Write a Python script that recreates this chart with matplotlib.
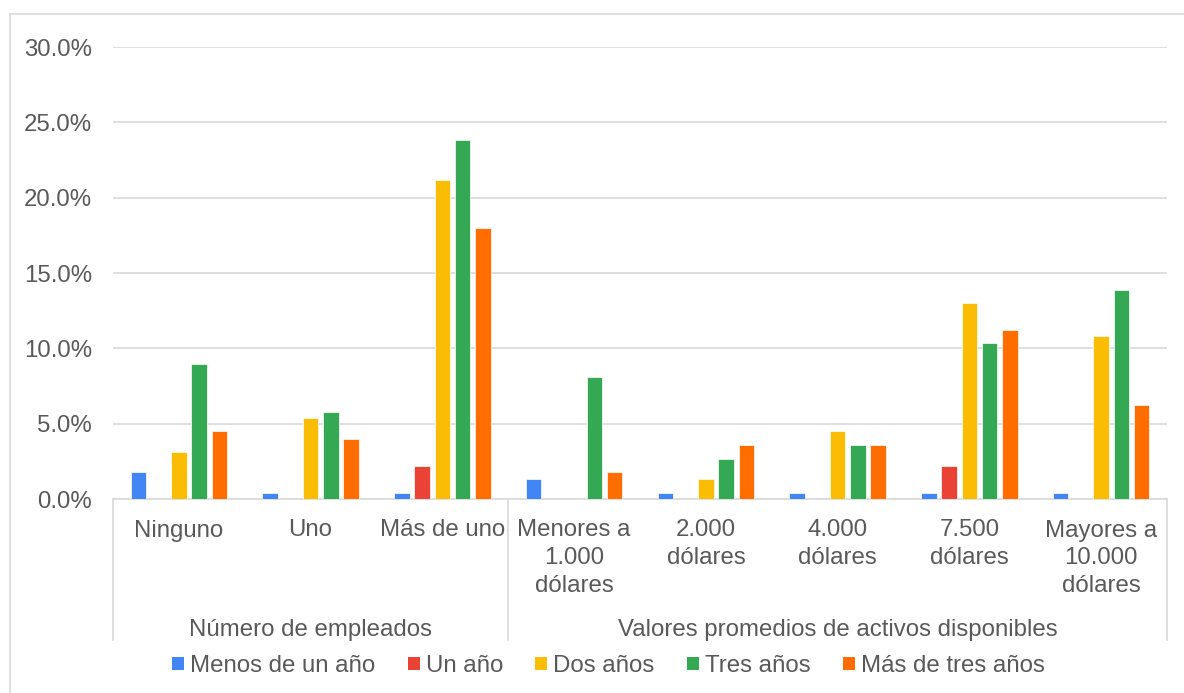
import matplotlib
matplotlib.use("Agg")
import matplotlib.pyplot as plt
from matplotlib.lines import Line2D
from matplotlib.patches import Patch
import numpy as np

plt.rcParams['font.family'] = ['Liberation Sans', 'DejaVu Sans']

categories = ["Ninguno", "Uno", "Más de uno", "Menores a\n1.000\ndólares",
              "2.000\ndólares", "4.000\ndólares", "7.500\ndólares",
              "Mayores a\n10.000\ndólares"]
groups = ["Número de empleados", "Valores promedios de activos disponibles"]
group_sizes = [3, 5]
series_names = ["Menos de un año", "Un año", "Dos años", "Tres años", "Más de tres años"]
menos_de_un_anio = [1.8, 0.4, 0.4, 1.35, 0.4, 0.4, 0.4, 0.4]
un_anio = [0.0, 0.0, 2.2, 0.0, 0.0, 0.0, 2.2, 0.0]
dos_anios = [3.1, 5.35, 21.15, 0.0, 1.35, 4.5, 13.0, 10.8]
tres_anios = [8.95, 5.8, 23.8, 8.1, 2.65, 3.6, 10.35, 13.9]
mas_de_tres_anios = [4.5, 4.0, 18.0, 1.8, 3.6, 3.6, 11.25, 6.25]
yticks = [0, 5, 10, 15, 20, 25, 30]

series = [menos_de_un_anio, un_anio, dos_anios, tres_anios, mas_de_tres_anios]
colors = ["#4285F4", "#EA4335", "#FBBC04", "#34A853", "#FF6D01"]
text_color = "#595959"
grid_color = "#D9D9D9"
FS = 17.3

W, H = 1184, 693
fig = plt.figure(figsize=(W / 100, H / 100), dpi=100)

def fx(px):
    return px / W

def fy(py):
    return 1 - py / H

left, right, top, bottom = 113, 1167, 47, 499
ax = fig.add_axes([fx(left), fy(bottom), fx(right - left), (bottom - top) / H])

x = np.arange(len(categories))
step = 0.154
width = 0.118
for i, (vals, col) in enumerate(zip(series, colors)):
    ax.bar(x + (i - 2) * step, vals, width=width, color=col,
           edgecolor='white', linewidth=0.5, zorder=3)

ax.set_xlim(-0.5, len(categories) - 0.5)
ax.set_ylim(0, 30)
ax.set_yticks(yticks)
ax.set_yticklabels([f"{v:.1f}%" for v in yticks], fontsize=FS, color=text_color)
ax.tick_params(axis='y', length=0, pad=15)
ax.set_xticks([])
ax.yaxis.grid(True, color=grid_color, linewidth=1.2)
ax.set_axisbelow(True)
for s in ['left', 'right', 'top']:
    ax.spines[s].set_visible(False)
ax.spines['bottom'].set_color(grid_color)
ax.spines['bottom'].set_linewidth(1.2)

# category labels (line by line)
trans = ax.get_xaxis_transform()
line_h = 27.5
first_base = 536.5
for xi, lab in zip(x, categories):
    for j, line in enumerate(lab.split("\n")):
        yb = first_base + j * line_h
        ax.text(xi, -(yb - bottom) / (bottom - top), line, transform=trans,
                ha='center', va='baseline', fontsize=FS, color=text_color)

# group labels and separators
ybot = -(640 - bottom) / (bottom - top)
start = 0
bounds = [-0.5]
for g, n in zip(groups, group_sizes):
    center = start + (n - 1) / 2
    ax.text(center, -(636 - bottom) / (bottom - top), g, transform=trans,
            ha='center', va='baseline', fontsize=FS, color=text_color)
    start += n
    bounds.append(start - 0.5)
for b in bounds:
    ax.plot([b, b], [0, ybot], transform=trans, color=grid_color,
            linewidth=1.2, clip_on=False)

# legend
handles = [Patch(facecolor=c, edgecolor='none') for c in colors]
fig.legend(handles, series_names, loc='center', bbox_to_anchor=(fx(608.5), fy(666)),
           ncol=5, frameon=False, fontsize=FS, handlelength=0.5, handleheight=0.5,
           handletextpad=0.25, columnspacing=1.35, labelcolor=text_color,
           borderaxespad=0, borderpad=0)

# outer border (cropped)
fig.add_artist(Line2D([fx(10), 1], [fy(14), fy(14)], color=grid_color, linewidth=1.2))
fig.add_artist(Line2D([fx(10), fx(10)], [fy(14), 0], color=grid_color, linewidth=1.2))

fig.savefig("out.png", dpi=100)
